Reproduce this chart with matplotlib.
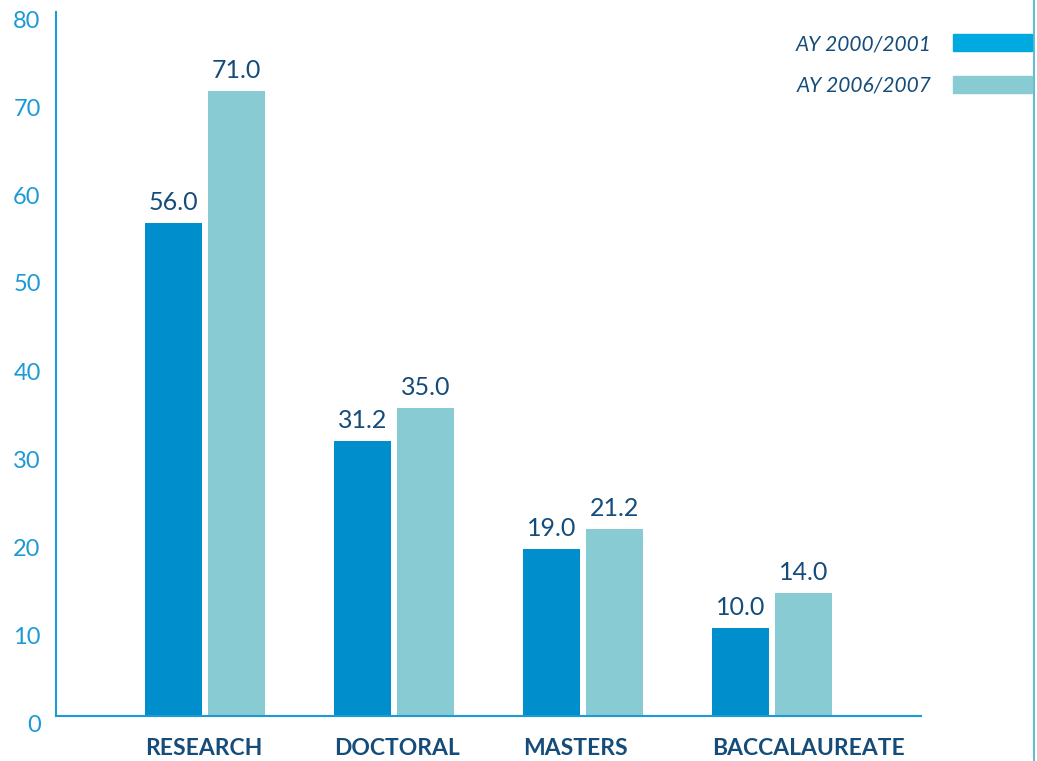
import numpy as np
import matplotlib.pyplot as plt
from matplotlib.patches import Patch
from matplotlib.lines import Line2D
from matplotlib.transforms import ScaledTranslation

# datos
categories = ['RESEARCH', 'DOCTORAL', 'MASTERS', 'BACCALAUREATE']
ay_2000 = [56.0, 31.2, 19.0, 10.0]
ay_2006 = [71.0, 35.0, 21.2, 14.0]
series_labels = ['AY 2000/2001', 'AY 2006/2007']
yticks = [0, 10, 20, 30, 40, 50, 60, 70, 80]

dark = '#008fcc'
light = '#89cbd2'
legend_dark = '#00aae0'
axis_col = '#1c9ad6'
navy = '#154c79'

plt.rcParams['font.family'] = ['Lato', 'DejaVu Sans']

fig = plt.figure(figsize=(10.37, 7.61), dpi=100)
ax = fig.add_axes([56 / 1037, 1 - 716 / 761, (921 - 56) / 1037, (716 - 12) / 761])

x = np.arange(len(categories))
w = 0.3016
off = 0.1667
b1 = ax.bar(x - off, ay_2000, w, color=dark)
b2 = ax.bar(x + off, ay_2006, w, color=light)

for bars, vals in ((b1, ay_2000), (b2, ay_2006)):
    for b, v in zip(bars, vals):
        ax.annotate(f'{v:.1f}', (b.get_x() + b.get_width() / 2, v),
                    xytext=(0, 6.5), textcoords='offset points',
                    ha='center', va='bottom', fontsize=18, color=navy)

ax.set_xlim(-0.788, 3.788)
ax.set_ylim(0, 80)
ax.set_yticks(yticks)
# las etiquetas empiezan en el borde izquierdo de la primera barra
ax.set_xticks(x - off - w / 2)
ax.set_xticklabels(categories, fontsize=16.5, fontweight='bold', color=navy, ha='left')
ax.tick_params(axis='x', length=0, pad=16)
ax.tick_params(axis='y', direction='in', length=15, width=1.5, color=axis_col,
               labelcolor=axis_col, labelsize=17, pad=11)

# etiquetas del eje y un poco mas abajo que la marca
shift = ScaledTranslation(0, -7 / 100, fig.dpi_scale_trans)
for t in ax.yaxis.get_major_ticks():
    t.label1.set_transform(t.label1.get_transform() + shift)
    if t.get_loc() in (0, 80):
        t.tick1line.set_visible(False)

for s in ('top', 'right'):
    ax.spines[s].set_visible(False)
for s in ('left', 'bottom'):
    ax.spines[s].set_color(axis_col)
    ax.spines[s].set_linewidth(1.5)

handles = [Patch(color=legend_dark), Patch(color=light)]
fig.legend(handles, series_labels, loc='upper right',
           bbox_to_anchor=(1032 / 1037, 1 - 34 / 761), frameon=False,
           markerfirst=False, handlelength=3.8, handleheight=0.9,
           handletextpad=1.0, labelspacing=1.05, borderpad=0, borderaxespad=0,
           prop={'size': 15, 'style': 'italic'}, labelcolor=navy)

# linea vertical del borde derecho
fig.add_artist(Line2D([1034 / 1037, 1034 / 1037], [0, 1], transform=fig.transFigure,
                      color='#5fbfd0', linewidth=1.5))

fig.savefig('out.png', dpi=100)
